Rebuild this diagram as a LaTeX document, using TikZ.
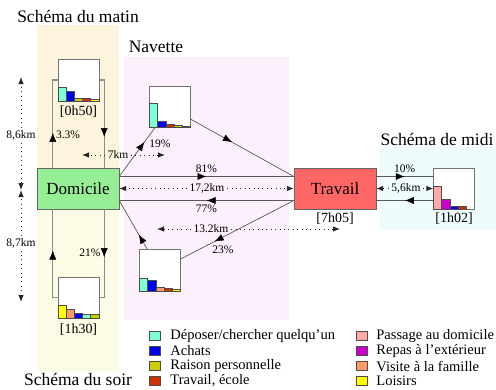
\documentclass[tikz,border=0pt]{standalone}
\usepackage{fontspec}
\setmainfont{Liberation Serif}
\usetikzlibrary{arrows.meta, positioning, decorations.markings}

\definecolor{fondMatin}{RGB}{252,244,220}
\definecolor{fondSoir}{RGB}{252,252,230}
\definecolor{fondNavette}{RGB}{253,240,253}
\definecolor{fondMidi}{RGB}{238,252,252}
\definecolor{vertDom}{RGB}{150,238,150}
\definecolor{rougeTrav}{RGB}{255,102,102}
\definecolor{cDepo}{RGB}{127,255,212}
\definecolor{cAchat}{RGB}{0,0,235}
\definecolor{cRaison}{RGB}{204,204,0}
\definecolor{cTravail}{RGB}{204,51,0}
\definecolor{cPassage}{RGB}{255,170,170}
\definecolor{cRepas}{RGB}{204,0,204}
\definecolor{cVisite}{RGB}{255,153,102}
\definecolor{cLoisir}{RGB}{255,255,0}

\begin{document}
\begin{tikzpicture}[x=1pt, y=-1pt]
	\tikzset{lieu/.style={draw=black!60, minimum width=82pt, minimum height=41pt, inner sep=0, font=\fontsize{17}{20}\selectfont}}
	\tikzset{chart/.style={draw=black!55, fill=white, minimum size=41pt, inner sep=0}}
	\tikzset{bar/.style={draw=black!70, line width=0.4pt}}
	\tikzset{titre/.style={font=\fontsize{17.5}{20}\selectfont}}
	\tikzset{duree/.style={font=\fontsize{14}{16}\selectfont}}
	\tikzset{pct/.style={font=\fontsize{11.5}{13}\selectfont, inner sep=1pt}}
	\tikzset{km/.style={font=\fontsize{11.5}{13}\selectfont, inner sep=2.5pt}}
	\tikzset{conn/.style={draw=black!65, line width=0.7pt}}
	\tikzset{boucle/.style={draw=black!45, line width=1.1pt}}
	\tikzset{dist/.style={draw=black!85, line width=0.9pt, dash pattern=on 0.9pt off 3.5pt, -{Latex[length=7pt,width=5.5pt]}}}
	\tikzset{marr/.style={postaction={decorate}, decoration={markings, mark=at position #1 with {\arrow[black, line width=0.5pt]{Latex[length=9pt,width=7pt]}}}}}
	\tikzset{legbox/.style={draw=black!70, minimum width=11pt, minimum height=9pt, inner sep=0}}
	\tikzset{legtext/.style={font=\fontsize{14.5}{16}\selectfont, inner sep=0, anchor=west}}
	\useasboundingbox (0,0) rectangle (496,389);
	% fonds
	\fill[fondMatin] (37,25) rectangle (119,168);
	\fill[fondSoir] (37,209) rectangle (119,372);
	\fill[fondNavette] (124,57) rectangle (289,320);
	\fill[fondMidi] (380,147) rectangle (496,230);
	% titres
	\node[titre] (tmatin) at (78,16) {Schéma du matin};
	\node[titre] (tnavette) at (156,46.5) {Navette};
	\node[titre] (tmidi) at (437,139) {Schéma de midi};
	\node[titre] (tsoir) at (78,379) {Schéma du soir};
	% lieux
	\node[lieu, fill=vertDom] (dom) at (78,188.5) {Domicile};
	\node[lieu, fill=rougeTrav] (trav) at (335,188.5) {Travail};
	\node[duree, below=0.5pt of trav] (htrav) {[7h05]};
	% histogrammes
	\node[chart] (matin) at (78.5,80) {};
	\node[chart] (navh) at (170,106.5) {};
	\node[chart] (navb) at (160,270) {};
	\node[chart] (soir) at (78.5,297.5) {};
	\node[chart] (midi) at (454,188.5) {};
	\node[duree, below=2pt of matin] (hmatin) {[0h50]};
	\node[duree, below=2.5pt of soir] (hsoir) {[1h30]};
	\node[duree, below=0pt of midi] (hmidi) {[1h02]};
	\foreach \c/\h [count=\i from 0] in {cDepo/14, cAchat/10, cRaison/3, cTravail/3, cLoisir/2}
		\draw[bar, fill=\c] ([xshift=\i*8.2pt]matin.south west) rectangle ++(8.2,-\h);
	\foreach \c/\h [count=\i from 0] in {cDepo/24, cAchat/6, cTravail/3, cRaison/2, cVisite/1}
		\draw[bar, fill=\c] ([xshift=\i*8.2pt]navh.south west) rectangle ++(8.2,-\h);
	\foreach \c/\h [count=\i from 0] in {cDepo/13, cAchat/11, cVisite/4, cTravail/3, cLoisir/2}
		\draw[bar, fill=\c] ([xshift=\i*8.2pt]navb.south west) rectangle ++(8.2,-\h);
	\foreach \c/\h [count=\i from 0] in {cLoisir/13, cVisite/9, cAchat/5, cDepo/4, cRaison/4}
		\draw[bar, fill=\c] ([xshift=\i*8.2pt]soir.south west) rectangle ++(8.2,-\h);
	\foreach \c/\h [count=\i from 0] in {cPassage/23, cRepas/10, cAchat/3, cTravail/3}
		\draw[bar, fill=\c] ([xshift=\i*8.2pt]midi.south west) rectangle ++(8.2,-\h);
	% boucles matin et soir
	\draw[boucle, marr=35pt] ([xshift=16pt]dom.north west) |- (matin.west);
	\draw[boucle, marr=62pt] (matin.east) -| ([xshift=-15pt]dom.north east);
	\draw[boucle, marr=52pt] (soir.west) -| ([xshift=16pt]dom.south west);
	\draw[boucle, marr=48pt] ([xshift=-15pt]dom.south east) |- (soir.east);
	\node[pct] (p33) at (68,135) {3.3\%};
	\node[pct] (p21) at (90,253) {21\%};
	% navette
	\draw[conn, marr=0.5] ([yshift=12pt]dom.east) -- ([yshift=12pt]trav.west) node[pct, midway, above=3pt] (p81) {81\%};
	\draw[conn, marr=0.5] ([yshift=-12pt]trav.west) -- ([yshift=-12pt]dom.east) node[pct, midway, below=3pt] (p77) {77\%};
	\draw[conn, marr=0.7] ([yshift=12pt]dom.east) -- ([xshift=6pt]navh.south west);
	\draw[conn, marr=0.4] ([yshift=8pt]navh.south east) -- ([yshift=12pt]trav.west);
	\draw[conn, marr=0.7] ([yshift=-12pt]trav.west) -- ([yshift=11pt]navb.east);
	\draw[conn, marr=0.3] ([xshift=8pt]navb.north west) -- ([yshift=-12pt]dom.east);
	\node[pct] (p19) at (160,144) {19\%};
	\node[pct] (p23) at (223,250) {23\%};
	% midi
	\draw[conn, marr=0.5] ([yshift=12pt]trav.east) -- ([yshift=12pt]midi.west) node[pct, midway, above=3pt] (p10) {10\%};
	\draw[conn, marr=0.5] ([yshift=-12pt]midi.west) -- ([yshift=-12pt]trav.east);
	% distances
	\coordinate (vh) at (21,77);
	\coordinate (vm) at (21,190);
	\coordinate (vb) at (21,302);
	\node[km] (k86) at (21,135) {8,6km};
	\node[km] (k87) at (21,243) {8,7km};
	\draw[dist] (k86) -- (vh);
	\draw[dist] (k86) -- (vm);
	\draw[dist] (k87) -- (vm);
	\draw[dist] (k87) -- (vb);
	\coordinate (k7g) at (82,155);
	\coordinate (k7d) at (165,155);
	\node[km] (k7) at (118,155) {7km};
	\draw[dist] (k7) -- (k7g);
	\draw[dist] (k7) -- (k7d);
	\node[km] (k172) at (207,188.5) {17,2km};
	\draw[dist] (k172) -- (dom);
	\draw[dist] (k172) -- (trav);
	\coordinate (k132g) at (157,229);
	\coordinate (k132d) at (340,229);
	\node[km] (k132) at (211,229) {13.2km};
	\draw[dist] (k132) -- (k132g);
	\draw[dist] (k132) -- (k132d);
	\node[km] (k56) at (406,188.5) {5,6km};
	\draw[dist] (k56) -- (trav);
	\draw[dist] (k56) -- (midi);
	% legende
	\node[legbox, fill=cDepo] (lg1) at (154.5,336) {};
	\node[legbox, fill=cAchat] (lg2) at (154.5,351) {};
	\node[legbox, fill=cRaison] (lg3) at (154.5,366) {};
	\node[legbox, fill=cTravail] (lg4) at (154.5,381) {};
	\node[legbox, fill=cPassage] (lg5) at (361.5,336) {};
	\node[legbox, fill=cRepas] (lg6) at (361.5,351) {};
	\node[legbox, fill=cVisite] (lg7) at (361.5,366) {};
	\node[legbox, fill=cLoisir] (lg8) at (361.5,381) {};
	\node[legtext, right=10pt of lg1] {Déposer/chercher quelqu’un};
	\node[legtext, right=10pt of lg2] {Achats};
	\node[legtext, right=10pt of lg3] {Raison personnelle};
	\node[legtext, right=10pt of lg4] {Travail, école};
	\node[legtext, right=9pt of lg5] {Passage au domicile};
	\node[legtext, right=9pt of lg6] {Repas à l’extérieur};
	\node[legtext, right=9pt of lg7] {Visite à la famille};
	\node[legtext, right=9pt of lg8] {Loisirs};
\end{tikzpicture}
\end{document}
